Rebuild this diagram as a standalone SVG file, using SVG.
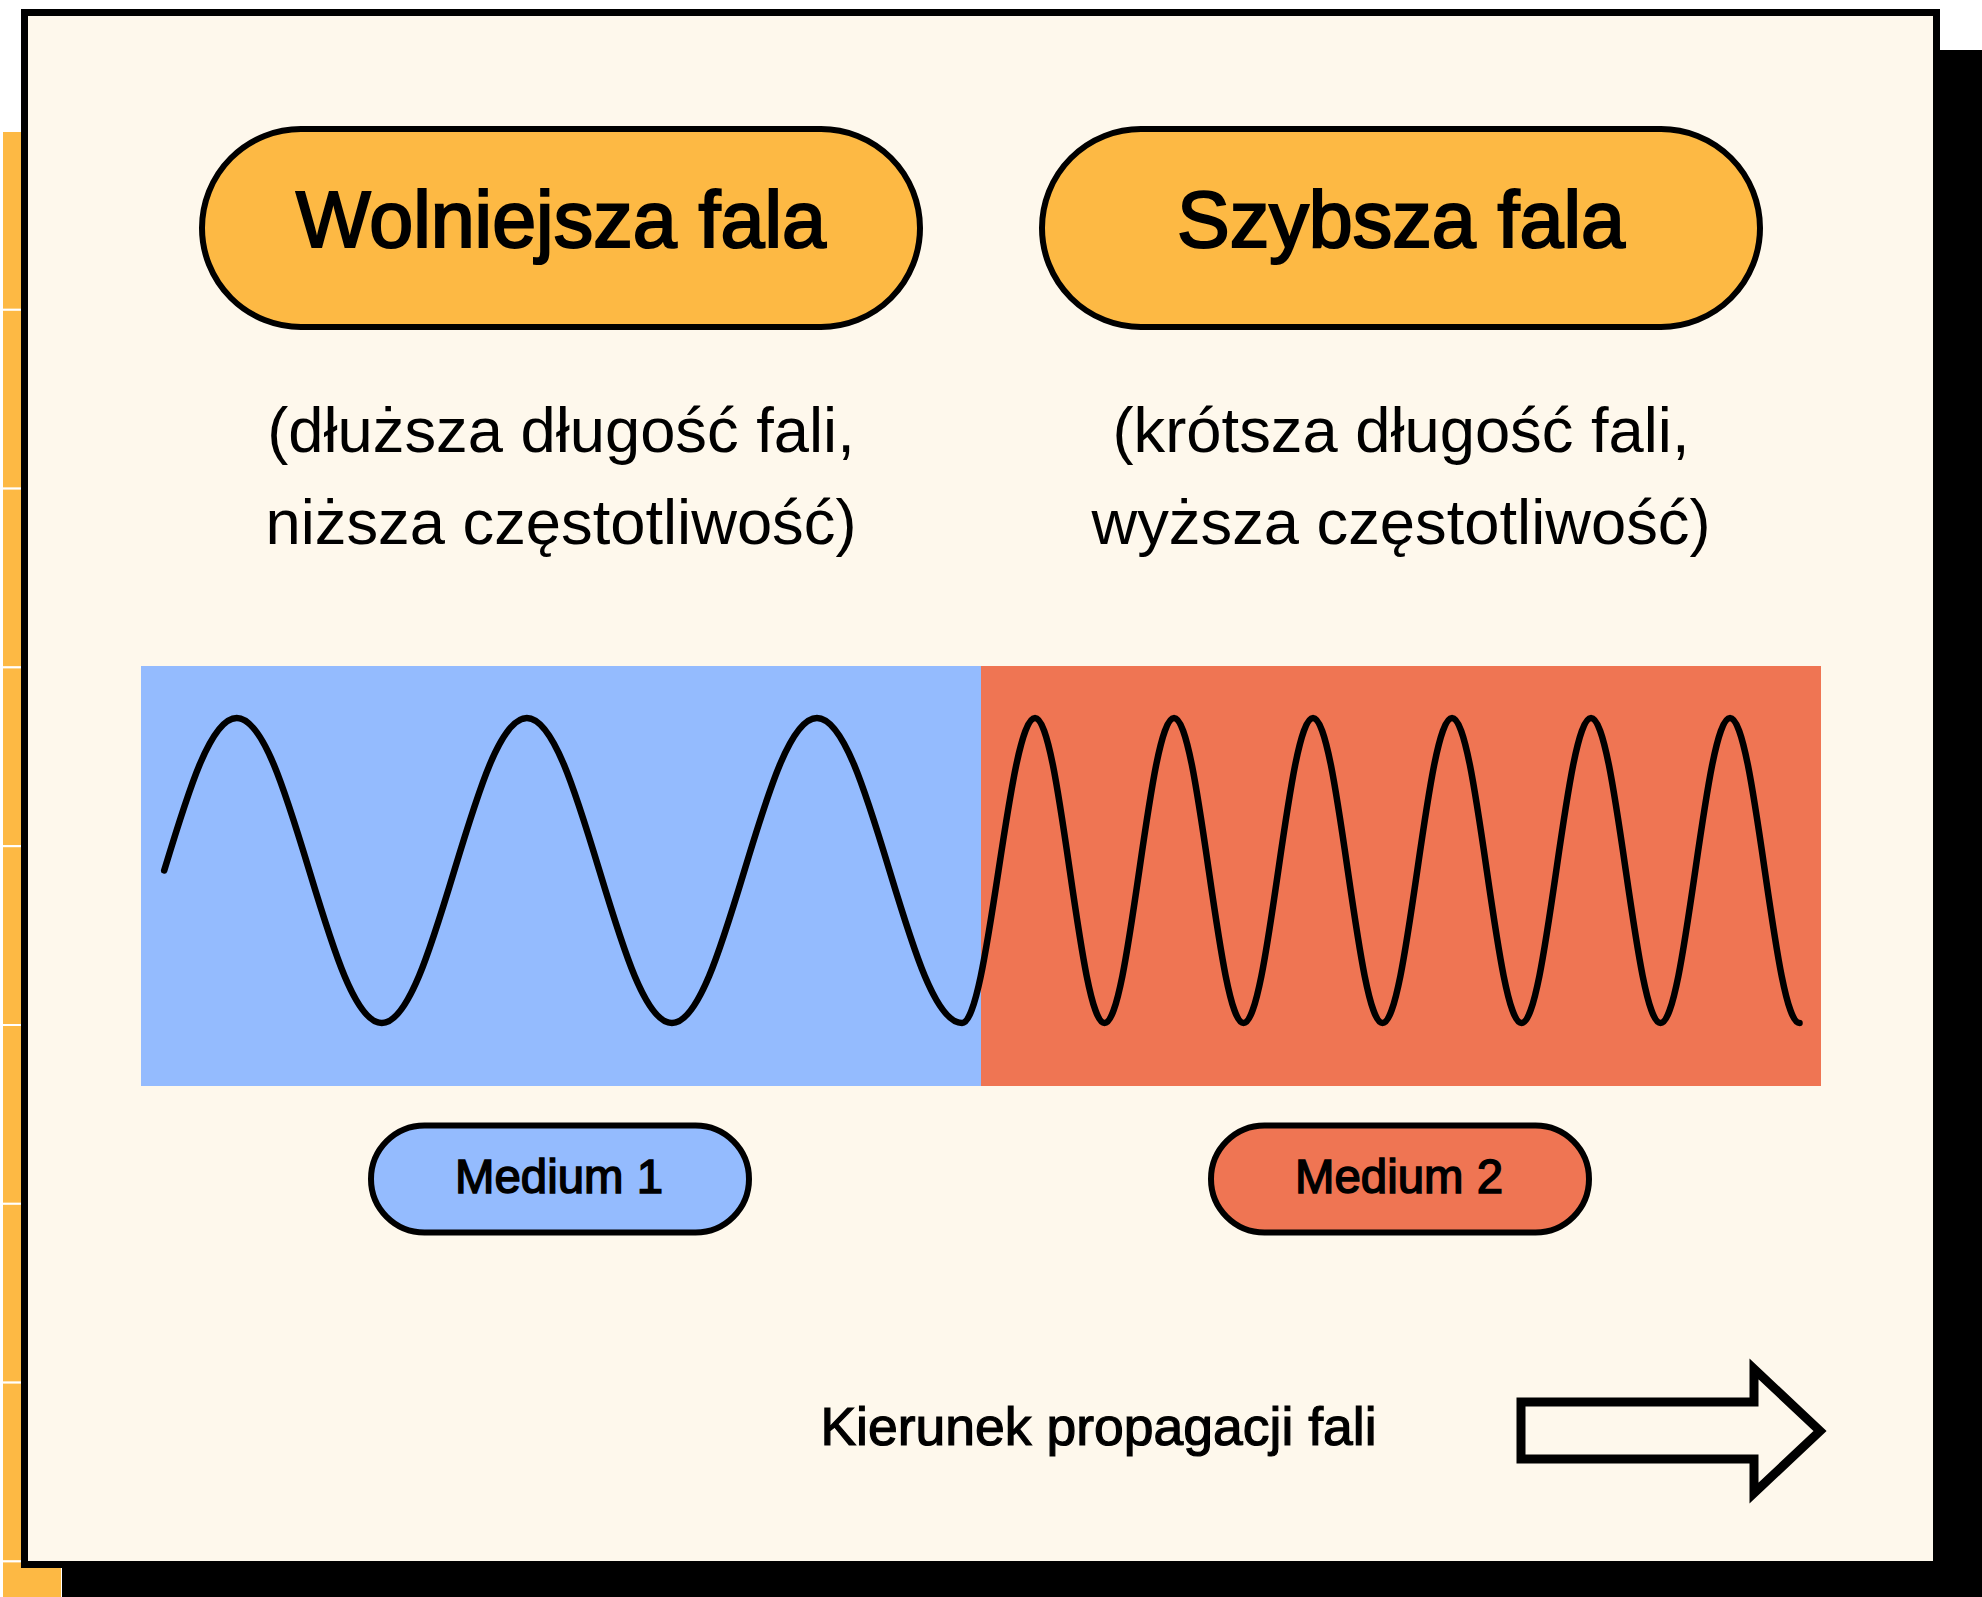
<svg xmlns="http://www.w3.org/2000/svg" width="1982" height="1597" viewBox="0 0 1982 1597">
<style>
.strip{fill:#FDB944;stroke:#FFFFFF;stroke-width:2}
.pill{stroke:#000;stroke-width:6}
.title{font-family:"Liberation Sans",Arial,sans-serif;font-size:79px;fill:#000;stroke:#000;stroke-width:2.2;text-anchor:middle}
.sub{font-family:"Liberation Sans",Arial,sans-serif;font-size:63.3px;fill:#000;text-anchor:middle}
.med{font-family:"Liberation Sans",Arial,sans-serif;font-size:47.4px;fill:#000;stroke:#000;stroke-width:1.5;text-anchor:middle}
.lbl{font-family:"Liberation Sans",Arial,sans-serif;font-size:53.5px;fill:#000;stroke:#000;stroke-width:1.2;text-anchor:middle}
.wave{fill:none;stroke:#000;stroke-width:6.5;stroke-linecap:round;stroke-linejoin:round}
</style>
<rect width="1982" height="1597" fill="#FFFFFF"/>
<g id="left-strip">
<rect class="strip" x="2" y="131" width="60" height="178.8"/>
<rect class="strip" x="2" y="309.8" width="60" height="178.8"/>
<rect class="strip" x="2" y="488.6" width="60" height="178.8"/>
<rect class="strip" x="2" y="667.4" width="60" height="178.8"/>
<rect class="strip" x="2" y="846.2" width="60" height="178.8"/>
<rect class="strip" x="2" y="1025" width="60" height="178.8"/>
<rect class="strip" x="2" y="1203.8" width="60" height="178.8"/>
<rect class="strip" x="2" y="1382.6" width="60" height="178.8"/>
<rect class="strip" x="2" y="1561.4" width="60" height="60"/>
</g>
<rect id="shadow" x="62" y="50" width="1930" height="1560" fill="#000"/>
<rect id="frame" x="24.5" y="12.5" width="1912" height="1552" fill="#FEF8EC" stroke="#000" stroke-width="7"/>
<g id="medium-1-area"><rect x="141" y="666" width="840" height="420" fill="#94BBFE"/></g>
<g id="medium-2-area"><rect x="981" y="666" width="840" height="420" fill="#EF7553"/></g>
<g id="node-slow">
<rect class="pill" x="202" y="129" width="718" height="198" rx="99" fill="#FDB944"/>
<text class="title" x="561" y="247">Wolniejsza fala</text>
</g>
<g id="node-fast">
<rect class="pill" x="1042" y="129" width="718" height="198" rx="99" fill="#FDB944"/>
<text class="title" x="1401" y="247">Szybsza fala</text>
</g>
<g id="desc-slow">
<text class="sub" x="561" y="452">(dłuższa długość fali,</text>
<text class="sub" x="561" y="544">niższa częstotliwość)</text>
</g>
<g id="desc-fast">
<text class="sub" x="1401" y="452">(krótsza długość fali,</text>
<text class="sub" x="1401" y="544">wyższa częstotliwość)</text>
</g>
<g id="connectors">
<path id="wave" class="wave" d="M164.2,870.5
c23.65,-78.13 46.28,-152.5 72.53,-152.5 c26.25,0 48.87,74.37 72.53,152.5 c23.65,78.13 46.28,152.5 72.53,152.5 c26.25,0 48.87,-74.37 72.53,-152.5
c23.65,-78.13 46.28,-152.5 72.53,-152.5 c26.25,0 48.87,74.37 72.53,152.5 c23.65,78.13 46.28,152.5 72.53,152.5 c26.25,0 48.87,-74.37 72.53,-152.5
c23.65,-78.13 46.28,-152.5 72.53,-152.5 c26.25,0 48.87,74.37 72.53,152.5 c23.65,78.13 46.28,152.5 72.53,152.5
c13.21,0 24.6,-74.37 36.5,-152.5 c11.9,-78.13 23.29,-152.5 36.5,-152.5
c12.58,0 23.42,74.37 34.75,152.5 c11.33,78.13 22.17,152.5 34.75,152.5 c12.58,0 23.42,-74.37 34.75,-152.5 c11.33,-78.13 22.17,-152.5 34.75,-152.5
c12.58,0 23.42,74.37 34.75,152.5 c11.33,78.13 22.17,152.5 34.75,152.5 c12.58,0 23.42,-74.37 34.75,-152.5 c11.33,-78.13 22.17,-152.5 34.75,-152.5
c12.58,0 23.42,74.37 34.75,152.5 c11.33,78.13 22.17,152.5 34.75,152.5 c12.58,0 23.42,-74.37 34.75,-152.5 c11.33,-78.13 22.17,-152.5 34.75,-152.5
c12.58,0 23.42,74.37 34.75,152.5 c11.33,78.13 22.17,152.5 34.75,152.5 c12.58,0 23.42,-74.37 34.75,-152.5 c11.33,-78.13 22.17,-152.5 34.75,-152.5
c12.58,0 23.42,74.37 34.75,152.5 c11.33,78.13 22.17,152.5 34.75,152.5 c12.58,0 23.42,-74.37 34.75,-152.5 c11.33,-78.13 22.17,-152.5 34.75,-152.5
c12.58,0 23.42,74.37 34.75,152.5 c11.33,78.13 22.17,152.5 34.75,152.5"/>
</g>
<g id="node-medium-1">
<rect class="pill" x="371" y="1125.5" width="378" height="107" rx="53.5" fill="#94BBFE"/>
<text class="med" x="559" y="1193">Medium 1</text>
</g>
<g id="node-medium-2">
<rect class="pill" x="1211" y="1125.5" width="378" height="107" rx="53.5" fill="#EF7553"/>
<text class="med" x="1399" y="1193">Medium 2</text>
</g>
<g id="direction">
<text class="lbl" x="1098.5" y="1445">Kierunek propagacji fali</text>
<polygon points="1521,1402 1754,1402 1754,1369 1820,1431 1754,1493 1754,1459 1521,1459" fill="#FEF8EC" stroke="#000" stroke-width="9" stroke-linejoin="miter"/>
</g>
</svg>
